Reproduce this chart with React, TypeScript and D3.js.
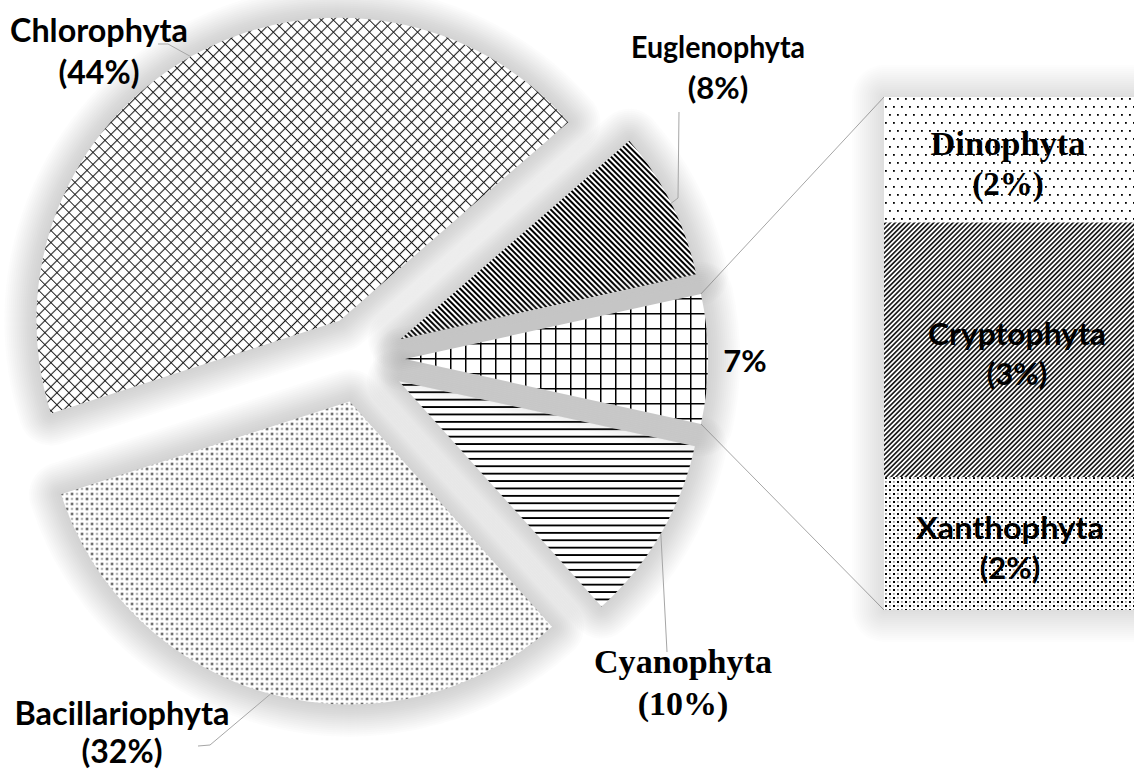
import React from 'react';
import * as d3 from 'd3';

// main pie (the "Other" slice is the sum of the bar values)
const mainNames = ['Cyanophyta', 'Bacillariophyta', 'Chlorophyta', 'Euglenophyta'];
const mainValues = [10, 32, 44, 8];
// secondary bar
const barNames = ['Dinophyta', 'Cryptophyta', 'Xanthophyta'];
const barValues = [1.7, 3.45, 1.8];

const W = 1134;
const H = 769;
const cx = 361;
const cy = 359;
const R = 303;
const explode = 44;

const fills: Record<string, string> = {
  Other: 'url(#p-grid)',
  Cyanophyta: 'url(#p-hline)',
  Bacillariophyta: 'url(#p-dots)',
  Chlorophyta: 'url(#p-diamond)',
  Euglenophyta: 'url(#p-bdiag)',
  Dinophyta: 'url(#p-sparse)',
  Cryptophyta: 'url(#p-fdiag)',
  Xanthophyta: 'url(#p-dots2)'
};

const SANS = 'Lato, "Open Sans", sans-serif';
const SERIF = '"Liberation Serif", "DejaVu Serif", serif';

// label layout: centre x, first baseline, font, name width, leader start points
type PieLab = { x: number; y: number; font: string; size: number; gap: number; len?: number; leader: [number, number][] };
const pieLabels: Record<string, PieLab> = {
  Chlorophyta: { x: 99, y: 42, font: SANS, size: 32, gap: 42, len: 178, leader: [[158, 44], [168, 44]] },
  Euglenophyta: { x: 718, y: 58, font: SANS, size: 31, gap: 41, len: 174, leader: [[679, 112], [678, 198]] },
  Cyanophyta: { x: 683, y: 673, font: SERIF, size: 34, gap: 42, len: 178, leader: [[667, 652]] },
  Bacillariophyta: { x: 122, y: 725, font: SANS, size: 32, gap: 38, len: 215, leader: [[198, 746], [210, 745]] }
};
const barLabels: Record<string, { font: string; size: number; dx: number; len: number }> = {
  Dinophyta: { font: SERIF, size: 33, dx: 0, len: 155 },
  Cryptophyta: { font: SANS, size: 31, dx: 9, len: 178 },
  Xanthophyta: { font: SANS, size: 31, dx: 2, len: 188 }
};

const barX = 884;
const barW = 256;
const barTop = 97;
const barBottom = 610;

// soft shadow built from stacked translucent strokes
const haloWidths = d3.range(4, 68, 4);

export default function App() {
  const otherValue = d3.sum(barValues);
  const pieData = [{ name: 'Other', value: otherValue }].concat(
    mainNames.map((n, i) => ({ name: n, value: mainValues[i] }))
  );
  const total = d3.sum(pieData, d => d.value);
  const otherSpan = (2 * Math.PI * otherValue) / total;
  const start = Math.PI / 2 - otherSpan / 2;

  const pie = d3.pie<{ name: string; value: number }>()
    .value(d => d.value)
    .sort(null)
    .startAngle(start)
    .endAngle(start + 2 * Math.PI);
  const arcGen = d3.arc<d3.PieArcDatum<{ name: string; value: number }>>()
    .innerRadius(0)
    .outerRadius(R);

  const arcs = pie(pieData).map(a => {
    const mid = (a.startAngle + a.endAngle) / 2;
    const ox = cx + Math.sin(mid) * explode;
    const oy = cy - Math.cos(mid) * explode;
    const at = (ang: number): [number, number] => [ox + Math.sin(ang) * R, oy - Math.cos(ang) * R];
    return { ...a, mid, ox, oy, at };
  });
  // big slices first so the later shadows fall over their tips
  const drawOrder = arcs.slice().sort((a, b) => b.value - a.value);
  const other = arcs.find(a => a.data.name === 'Other')!;

  const y = d3.scaleLinear().domain([0, otherValue]).range([barTop, barBottom]);
  const stacked = d3.cumsum(barValues);

  const pct = (v: number) => `${Math.round(v)}%`;

  const halo = (d: string, key: string, op = 0.028) => (
    <g key={key} fill="none" stroke="#999" strokeLinejoin="round">
      {haloWidths.map(w => (
        <path key={w} d={d} strokeWidth={w} strokeOpacity={op} />
      ))}
    </g>
  );

  const barPath = `M${barX},${barTop}H${barX + barW}V${barBottom}H${barX}Z`;

  return (
    <svg width={W} height={H} style={{ position: 'absolute', left: 0, top: 0, background: '#fff' }}>
      <defs>
        <pattern id="p-diamond" width="8.5" height="8.5" patternUnits="userSpaceOnUse" patternTransform="rotate(45)">
          <path d="M4.25,0V8.5M0,4.25H8.5" stroke="#1a1a1a" strokeWidth="1.1" />
        </pattern>
        <pattern id="p-bdiag" width="4" height="4" patternUnits="userSpaceOnUse" patternTransform="rotate(-45)">
          <path d="M2,0V4" stroke="#000" strokeWidth="2" />
        </pattern>
        <pattern id="p-grid" width="15" height="15" patternUnits="userSpaceOnUse" patternTransform={`translate(${other.ox},${other.oy})`}>
          <path d="M0,0V15M0,0H15" stroke="#000" strokeWidth="3" />
        </pattern>
        <pattern id="p-hline" width="10" height="7.4" patternUnits="userSpaceOnUse">
          <path d="M0,3.7H10" stroke="#000" strokeWidth="1.8" />
        </pattern>
        <pattern id="p-dots" width="10" height="10" patternUnits="userSpaceOnUse">
          <rect x="1.5" y="1.5" width="2" height="2" fill="#000" />
          <rect x="6.5" y="6.5" width="2" height="2" fill="#000" />
          <rect x="6.7" y="1.7" width="1.5" height="1.5" fill="#555" />
          <rect x="1.7" y="6.7" width="1.5" height="1.5" fill="#555" />
        </pattern>
        <pattern id="p-dots2" width="8" height="8" patternUnits="userSpaceOnUse">
          <rect x="1" y="1" width="2" height="2" fill="#000" />
          <rect x="5" y="5" width="2" height="2" fill="#000" />
          <rect x="5.2" y="1.2" width="1.4" height="1.4" fill="#666" />
          <rect x="1.2" y="5.2" width="1.4" height="1.4" fill="#666" />
        </pattern>
        <pattern id="p-sparse" width="8" height="16" patternUnits="userSpaceOnUse">
          <rect x="1" y="2" width="1.8" height="1.8" fill="#000" />
          <rect x="5" y="10" width="1.8" height="1.8" fill="#000" />
        </pattern>
        <pattern id="p-fdiag" width="3.4" height="3.4" patternUnits="userSpaceOnUse" patternTransform="rotate(45)">
          <path d="M1.7,0V3.4" stroke="#000" strokeWidth="1.5" />
        </pattern>
      </defs>

      <rect width={W} height={H} fill="#fff" />

      {/* connector lines */}
      <g stroke="#a6a6a6" strokeWidth={1}>
        <line x1={other.at(other.startAngle)[0]} y1={other.at(other.startAngle)[1]} x2={barX} y2={barTop} />
        <line x1={other.at(other.endAngle)[0]} y1={other.at(other.endAngle)[1]} x2={barX} y2={barBottom} />
      </g>

      {/* pie slices: soft shadow, white base, pattern (each slice in turn) */}
      {drawOrder.map(a => {
        const d = arcGen(a) || '';
        return (
          <g key={a.data.name} transform={`translate(${a.ox},${a.oy})`}>
            {halo(d, 'h')}
            <path d={d} fill="#fff" />
            <path d={d} fill={fills[a.data.name]} />
          </g>
        );
      })}

      {/* bar of pie */}
      {halo(barPath, 'bar-halo', 0.018)}
      {barNames.map((n, i) => {
        const y0 = y(stacked[i] - barValues[i]);
        const y1 = y(stacked[i]);
        const lab = barLabels[n];
        const my = (y0 + y1) / 2;
        const tx = barX + barW / 2 + lab.dx - 4;
        return (
          <g key={n}>
            <rect x={barX} y={y0} width={barW} height={y1 - y0} fill="#fff" />
            <rect x={barX} y={y0} width={barW} height={y1 - y0} fill={fills[n]} />
            <text x={tx} y={my - 5} textAnchor="middle" fontFamily={lab.font} fontWeight="bold" fontSize={lab.size} fill="#000"
              textLength={lab.len} lengthAdjust="spacingAndGlyphs">
              {n}
            </text>
            <text x={tx} y={my + 35} textAnchor="middle" fontFamily={lab.font} fontWeight="bold" fontSize={lab.size} fill="#000">
              ({pct(barValues[i])})
            </text>
          </g>
        );
      })}

      {/* leaders */}
      {arcs.filter(a => pieLabels[a.data.name]).map(a => {
        const lab = pieLabels[a.data.name];
        const pts = [...lab.leader, a.at(a.mid)];
        return <path key={a.data.name + '-l'} d={d3.line()(pts) || ''} fill="none" stroke="#a6a6a6" strokeWidth={1} />;
      })}

      {/* pie labels */}
      {arcs.filter(a => pieLabels[a.data.name]).map(a => {
        const lab = pieLabels[a.data.name];
        return (
          <g key={a.data.name + '-t'} fontFamily={lab.font} fontWeight="bold" fontSize={lab.size} textAnchor="middle" fill="#000">
            <text x={lab.x} y={lab.y} textLength={lab.len} lengthAdjust={lab.len ? 'spacingAndGlyphs' : undefined}>{a.data.name}</text>
            <text x={lab.x} y={lab.y + lab.gap}>({pct(a.data.value)})</text>
          </g>
        );
      })}
      <text x={other.at(other.mid)[0] + 37} y={other.oy + 13} textAnchor="middle" fontFamily={SANS} fontWeight="bold" fontSize={31} fill="#000">
        {pct(other.data.value)}
      </text>
    </svg>
  );
}
